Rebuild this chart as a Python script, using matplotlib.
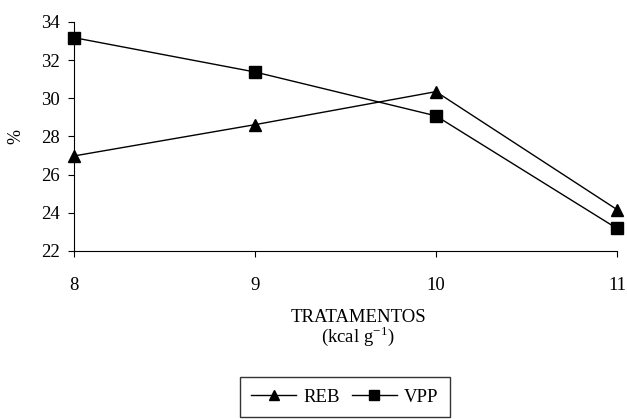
import matplotlib
matplotlib.use('Agg')
import matplotlib.pyplot as plt

plt.rcParams['font.family'] = ['Liberation Serif', 'DejaVu Serif']
plt.rcParams['mathtext.fontset'] = 'stix'

# Datos
tratamentos = [8, 9, 10, 11]
reb = [26.98, 28.62, 30.35, 24.17]
vpp = [33.18, 31.38, 29.08, 23.18]

fig = plt.figure(figsize=(6.27, 4.19), dpi=100)
ax = fig.add_axes([0.118, 0.401, 0.866, 0.5465])

ax.plot(tratamentos, reb, color='black', lw=1, marker='^', markersize=8,
        label='REB', clip_on=False)
ax.plot(tratamentos, vpp, color='black', lw=1, marker='s', markersize=8,
        label='VPP', clip_on=False)

ax.set_xlim(8, 11)
ax.set_ylim(22, 34)
ax.set_xticks(tratamentos)
ax.set_yticks(range(22, 35, 2))
ax.spines['top'].set_visible(False)
ax.spines['right'].set_visible(False)
ax.tick_params(direction='out', length=4, width=0.8, labelsize=13.5)
ax.tick_params(axis='x', pad=15)
ax.tick_params(axis='y', pad=6)

ax.set_ylabel('%', fontsize=13, labelpad=12)

fig.text(0.571, 1 - 317 / 419, 'TRATAMENTOS', ha='center', va='center', fontsize=13.5)
fig.text(0.571, 1 - 336 / 419, '(kcal g$^{\\mathregular{-1}}$)', ha='center', va='center', fontsize=13.5)

leg = fig.legend(loc='center', bbox_to_anchor=(345 / 627, 1 - 397 / 419), ncol=2,
                 fontsize=13.5, frameon=True, fancybox=False, handlelength=2.4,
                 columnspacing=0.6, handletextpad=0.4, borderpad=0.6,
                 markerscale=0.85)
leg.get_frame().set_edgecolor('black')
leg.get_frame().set_linewidth(1)

fig.savefig('out.png', dpi=100)
